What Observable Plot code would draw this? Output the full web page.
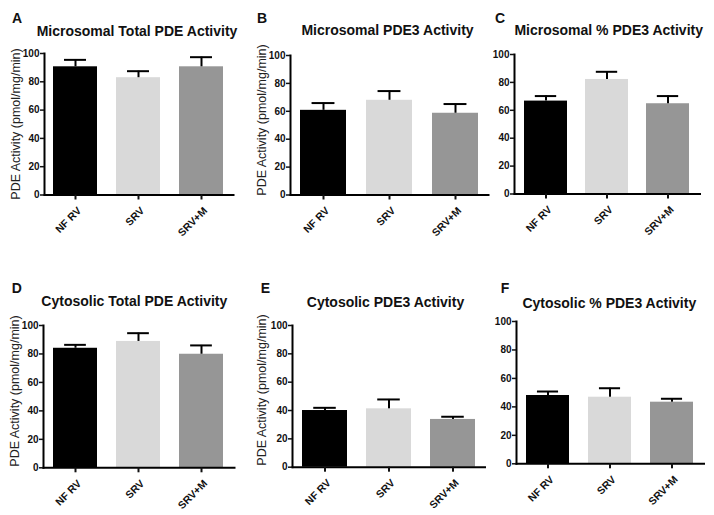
<!DOCTYPE html>
<html>
<head>
<meta charset="utf-8">
<script src="https://cdn.jsdelivr.net/npm/d3@7"></script>
<script src="https://cdn.jsdelivr.net/npm/@observablehq/plot@0.6"></script>
<style>
  html, body { margin: 0; padding: 0; background: #fff; }
  #root { position: relative; width: 714px; height: 515px; overflow: hidden; font-family: "Liberation Sans", Arial, sans-serif; }
  #root > svg, #root > div { position: absolute; }
</style>
</head>
<body>
<div id="root"></div>
<script>
// ---- data ----
const groups = ["NF RV", "SRV", "SRV+M"];
const groupColors = ["#000000", "#d9d9d9", "#969696"];

const microTotal = [90.6, 82.9, 90.6];
const microTotalErr = [4.9, 4.6, 6.8];
const microPDE3 = [60.7, 67.9, 58.6];
const microPDE3Err = [5.2, 6.6, 6.6];
const microPct = [66.6, 82.1, 64.7];
const microPctErr = [3.6, 5.5, 5.5];
const cytoTotal = [84.0, 88.8, 79.8];
const cytoTotalErr = [2.4, 5.8, 6.2];
const cytoPDE3 = [40.0, 41.2, 33.7];
const cytoPDE3Err = [1.9, 6.6, 1.9];
const cytoPct = [48.0, 46.8, 43.3];
const cytoPctErr = [2.8, 6.3, 2.4];

const yTicks = [0, 20, 40, 60, 80, 100];
const yLabel = "PDE Activity (pmol/mg/min)";

const panels = [
  {letter: "A", title: "Microsomal Total PDE Activity", vals: microTotal, errs: microTotalErr, ylab: true,
   frame: {l: 44, r: 233, t: 53, b: 194.5}, letterPos: [12, 23], titlePos: [137, 36], ylabPos: [15.5, 124]},
  {letter: "B", title: "Microsomal PDE3 Activity", vals: microPDE3, errs: microPDE3Err, ylab: true,
   frame: {l: 290, r: 488, t: 55, b: 194.5}, letterPos: [257, 23], titlePos: [387.5, 35], ylabPos: [262, 120]},
  {letter: "C", title: "Microsomal % PDE3 Activity", vals: microPct, errs: microPctErr, ylab: false,
   frame: {l: 513.5, r: 699, t: 54, b: 193.5}, letterPos: [495, 22.7], titlePos: [608.7, 35]},
  {letter: "D", title: "Cytosolic Total PDE Activity", vals: cytoTotal, errs: cytoTotalErr, ylab: true,
   frame: {l: 42.5, r: 233.5, t: 325, b: 467.3}, letterPos: [11.7, 292.7], titlePos: [134.3, 306], ylabPos: [14.5, 391]},
  {letter: "E", title: "Cytosolic PDE3 Activity", vals: cytoPDE3, errs: cytoPDE3Err, ylab: true,
   frame: {l: 291.5, r: 484, t: 325, b: 466.7}, letterPos: [260.7, 292.7], titlePos: [385.5, 306.7], ylabPos: [262, 390]},
  {letter: "F", title: "Cytosolic % PDE3 Activity", vals: cytoPct, errs: cytoPctErr, ylab: false,
   frame: {l: 515.5, r: 703, t: 321, b: 463.3}, letterPos: [500.7, 292.7], titlePos: [609.3, 308.3]}
];

const FONT = '"Liberation Sans", Arial, sans-serif';
const P = 0.3;
const root = document.getElementById("root");

for (const p of panels) {
  const data = groups.map((g, i) => ({g, v: p.vals[i], e: p.errs[i]}));
  const fw = p.frame.r - p.frame.l, fh = p.frame.b - p.frame.t;
  const mL = 40, mT = 10, mR = 6, mB = 50;
  const bw = (1 - P) * fw / 3;
  const chart = Plot.plot({
    width: fw + mL + mR,
    height: fh + mT + mB,
    marginLeft: mL, marginTop: mT, marginRight: mR, marginBottom: mB,
    style: {fontFamily: FONT, fontSize: "10px", fontWeight: "bold", background: "transparent", overflow: "visible", color: "#111"},
    x: {domain: groups, paddingInner: P, paddingOuter: P / 2, align: 0.5, label: null},
    y: {domain: [0, 100], label: null},
    color: {domain: groups, range: groupColors},
    marks: [
      Plot.barY(data, {x: "g", y: "v", fill: "g"}),
      Plot.ruleX(data, {x: "g", y1: "v", y2: d => d.v + d.e, stroke: "#000", strokeWidth: 2}),
      Plot.tickY(data, {x: "g", y: d => d.v + d.e, stroke: "#000", strokeWidth: 2, insetLeft: bw / 4, insetRight: bw / 4}),
      Plot.frame({anchor: "left", stroke: "#000", strokeWidth: 2}),
      Plot.frame({anchor: "bottom", stroke: "#000", strokeWidth: 2}),
      Plot.axisY({ticks: yTicks, tickSize: 4, tickPadding: 1, label: null, fontSize: 10, fontWeight: "bold", strokeWidth: 1.5, tickFormat: d => String(d)}),
      Plot.axisX({tickSize: 5, tickPadding: 2, tickRotate: -45, label: null, fontSize: 10.5, fontWeight: "bold", strokeWidth: 2})
    ]
  });
  chart.style.left = (p.frame.l - mL) + "px";
  chart.style.top = (p.frame.t - mT) + "px";
  root.appendChild(chart);
}

// shift rotated x tick labels down/right so they sit below the tick like the reference
d3.select(root).selectAll("g[aria-label='x-axis tick label'] text")
  .attr("transform", function () {
    const t = d3.select(this).attr("transform") || "";
    return "translate(4,7) " + t;
  });

// overlay text: panel letters, titles, y labels
const overlay = d3.select(root).append("svg")
  .attr("width", 714).attr("height", 515)
  .style("left", "0px").style("top", "0px")
  .style("pointer-events", "none")
  .style("font-family", FONT);

for (const p of panels) {
  overlay.append("text")
    .attr("x", p.letterPos[0]).attr("y", p.letterPos[1])
    .attr("font-size", 14).attr("font-weight", "bold").attr("fill", "#111")
    .text(p.letter);
  overlay.append("text")
    .attr("x", p.titlePos[0]).attr("y", p.titlePos[1])
    .attr("text-anchor", "middle")
    .attr("font-size", 14).attr("font-weight", "bold").attr("fill", "#111")
    .text(p.title);
  if (p.ylab) {
    overlay.append("text")
      .attr("transform", `translate(${p.ylabPos[0]},${p.ylabPos[1]}) rotate(-90)`)
      .attr("text-anchor", "middle").attr("dy", "0.35em")
      .attr("font-size", 12.5).attr("fill", "#222")
      .text(yLabel);
  }
}
</script>
</body>
</html>
